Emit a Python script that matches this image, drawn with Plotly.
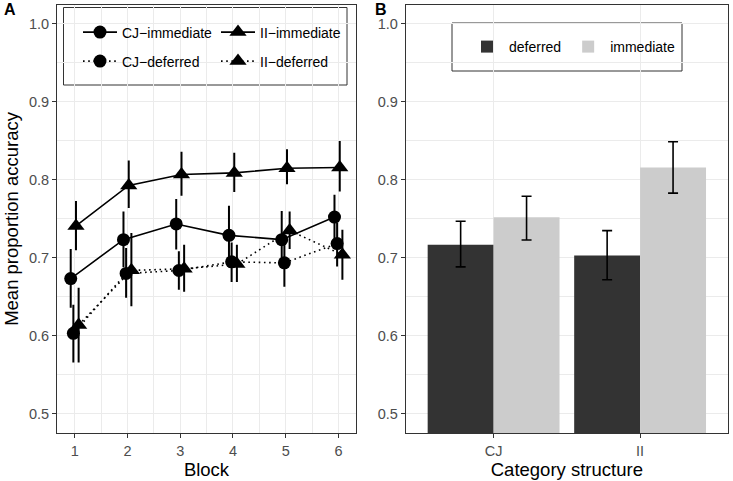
import plotly.graph_objects as go

# ---------------- data ----------------
blocks = [1, 2, 3, 4, 5, 6]

cj_imm = [0.6735, 0.7234, 0.7435, 0.7289, 0.7234, 0.7524]
cj_imm_lo = [0.636, 0.688, 0.7106, 0.6957, 0.6957, 0.722]
cj_imm_hi = [0.7115, 0.7596, 0.7754, 0.767, 0.7600, 0.781]

ii_imm = [0.741, 0.793, 0.807, 0.809, 0.815, 0.816]
ii_imm_lo = [0.7097, 0.764, 0.7797, 0.7844, 0.7946, 0.785]
ii_imm_hi = [0.773, 0.8248, 0.836, 0.835, 0.8394, 0.850]

cj_def = [0.6032, 0.680, 0.6838, 0.6949, 0.6936, 0.7183]
cj_def_lo = [0.5657, 0.649, 0.659, 0.669, 0.663, 0.689]
cj_def_hi = [0.640, 0.7128, 0.7085, 0.7196, 0.7234, 0.745]

ii_def = [0.614, 0.684, 0.686, 0.692, 0.735, 0.704]
ii_def_lo = [0.5657, 0.638, 0.6565, 0.669, 0.7115, 0.672]
ii_def_hi = [0.6616, 0.732, 0.717, 0.717, 0.7596, 0.736]

structures = ["CJ", "II"]
bar_def = [0.717, 0.703]
bar_def_lo = [0.6885, 0.672]
bar_def_hi = [0.747, 0.735]
bar_imm = [0.752, 0.816]
bar_imm_lo = [0.723, 0.783]
bar_imm_hi = [0.779, 0.849]

y_ticks = [0.5, 0.6, 0.7, 0.8, 0.9, 1.0]
y_labels = ["0.5", "0.6", "0.7", "0.8", "0.9", "1.0"]

# ---------------- figure ----------------
W, H = 733, 481
FONT = "Liberation Sans, Arial, sans-serif"
fig = go.Figure()


def px_x(p):
    return p / W


def px_y(p):
    return 1 - p / H


def err(vals, lo, hi):
    return dict(type="data", symmetric=False,
                array=[h - v for v, h in zip(vals, hi)],
                arrayminus=[v - l for v, l in zip(vals, lo)],
                color="black", thickness=2, width=0)


DOTTED = "1.6px,3.6px"
series = [
    ("CJ\u2212immediate", cj_imm, cj_imm_lo, cj_imm_hi, -0.075, "circle", "solid", "legend"),
    ("II\u2212immediate", ii_imm, ii_imm_lo, ii_imm_hi, 0.025, "triangle-up", "solid", "legend"),
    ("CJ\u2212deferred", cj_def, cj_def_lo, cj_def_hi, -0.025, "circle", DOTTED, "legend2"),
    ("II\u2212deferred", ii_def, ii_def_lo, ii_def_hi, 0.075, "triangle-up", DOTTED, "legend2"),
]
for name, vals, lo, hi, dodge, sym, dash, leg in series:
    fig.add_trace(go.Scatter(
        x=[b + dodge for b in blocks], y=vals, name=name, mode="lines+markers",
        line=dict(color="black", width=1.6, dash=dash),
        marker=dict(symbol=sym, size=13 if sym == "circle" else 15, color="black"),
        error_y=err(vals, lo, hi),
        xaxis="x", yaxis="y", legend=leg,
    ))

fig.add_trace(go.Bar(
    x=structures, y=bar_def, name="deferred", marker=dict(color="#333333", line=dict(width=0)),
    error_y=dict(type="data", symmetric=False,
                 array=[h - v for v, h in zip(bar_def, bar_def_hi)],
                 arrayminus=[v - l for v, l in zip(bar_def, bar_def_lo)],
                 color="black", thickness=1.6, width=5),
    xaxis="x2", yaxis="y2", legend="legend3",
))
fig.add_trace(go.Bar(
    x=structures, y=bar_imm, name="immediate", marker=dict(color="#CCCCCC", line=dict(width=0)),
    error_y=dict(type="data", symmetric=False,
                 array=[h - v for v, h in zip(bar_imm, bar_imm_hi)],
                 arrayminus=[v - l for v, l in zip(bar_imm, bar_imm_lo)],
                 color="black", thickness=1.6, width=5),
    xaxis="x2", yaxis="y2", legend="legend3",
))

ydom = [px_y(433.3), px_y(4.5)]
tickfont = dict(family=FONT, size=14.5, color="#4D4D4D")
titlefont = dict(family=FONT, size=18.5, color="black")
legfont = dict(family=FONT, size=14, color="black")
grid = "#EBEBEB"
common_axis = dict(showline=True, mirror=True, linecolor="#333333", linewidth=1,
                   ticks="outside", ticklen=4, tickwidth=1, tickcolor="#333333",
                   tickfont=tickfont, showgrid=True, gridcolor=grid, gridwidth=1,
                   zeroline=False)
yaxis_common = dict(common_axis, range=[0.475, 1.025], tickmode="array",
                    tickvals=y_ticks, ticktext=y_labels,
                    minor=dict(tickmode="array", tickvals=[0.55, 0.65, 0.75, 0.85, 0.95],
                               showgrid=True, gridcolor=grid, gridwidth=0.6, ticklen=0))

fig.update_layout(
    width=W, height=H, margin=dict(l=0, r=0, t=0, b=0),
    paper_bgcolor="white", plot_bgcolor="white",
    font=dict(family=FONT, color="black"),
    barmode="group", bargap=0.1, bargroupgap=0,
    xaxis=dict(common_axis, domain=[px_x(57), px_x(356)], range=[0.665, 6.333],
               tickmode="array", tickvals=blocks, ticktext=[str(b) for b in blocks],
               minor=dict(tickmode="array", tickvals=[1.5, 2.5, 3.5, 4.5, 5.5],
                          showgrid=True, gridcolor=grid, gridwidth=0.6, ticklen=0),
               title=dict(text="Block", font=titlefont, standoff=4), anchor="y"),
    yaxis=dict(yaxis_common, domain=ydom, anchor="x",
               title=dict(text="Mean proportion accuracy", font=titlefont, standoff=5)),
    xaxis2=dict(common_axis, domain=[px_x(405.7), px_x(728)], range=[-0.6, 1.6],
                type="category", title=dict(text="Category structure", font=titlefont, standoff=4),
                anchor="y2"),
    yaxis2=dict(yaxis_common, domain=ydom, anchor="x2"),
    legend=dict(orientation="h", x=px_x(78), y=px_y(32.5), xanchor="left", yanchor="middle",
                font=legfont, bgcolor="rgba(0,0,0,0)", itemwidth=34,
                entrywidth=89, itemclick=False),
    legend2=dict(orientation="h", x=px_x(78), y=px_y(61.5), xanchor="left", yanchor="middle",
                 font=legfont, bgcolor="rgba(0,0,0,0)", itemwidth=34,
                 entrywidth=89, itemclick=False),
    legend3=dict(orientation="h", x=px_x(465), y=px_y(47), xanchor="left", yanchor="middle",
                 font=legfont, bgcolor="rgba(0,0,0,0)", itemwidth=34, itemclick=False),
    shapes=[
        dict(type="rect", xref="paper", yref="paper", x0=px_x(63.5), x1=px_x(347),
             y0=px_y(85), y1=px_y(7.5), line=dict(color="#333333", width=1), fillcolor="white",
             layer="below"),
        dict(type="rect", xref="paper", yref="paper", x0=px_x(452), x1=px_x(682),
             y0=px_y(71), y1=px_y(23), line=dict(color="#333333", width=1), fillcolor="white",
             layer="below"),
    ],
    annotations=[
        dict(text="<b>A</b>", x=px_x(2), y=px_y(19.5), xref="paper", yref="paper",
             xanchor="left", yanchor="bottom", showarrow=False,
             font=dict(family=FONT, size=16, color="black")),
        dict(text="<b>B</b>", x=px_x(373), y=px_y(19.5), xref="paper", yref="paper",
             xanchor="left", yanchor="bottom", showarrow=False,
             font=dict(family=FONT, size=16, color="black")),
    ],
)

fig.write_html("out.html")
